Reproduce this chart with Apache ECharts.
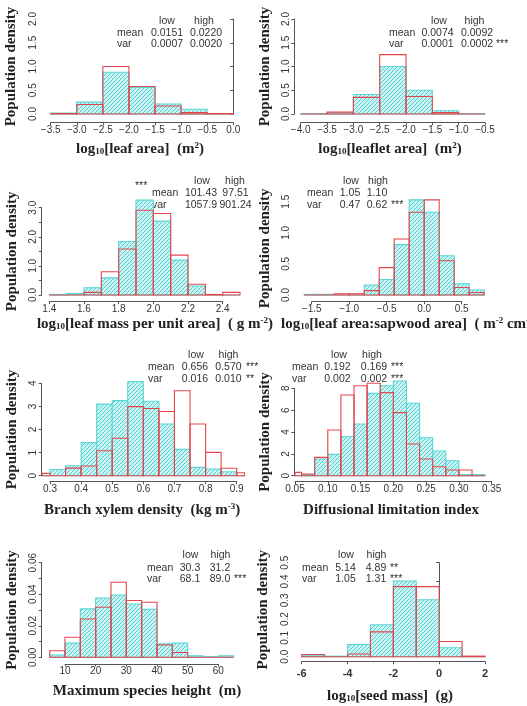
<!DOCTYPE html>
<html>
<head>
<meta charset="utf-8">
<script src="https://cdn.jsdelivr.net/npm/echarts@6/dist/echarts.min.js"></script>
<style>
html, body { margin: 0; padding: 0; background: #fff; }
#chart { width: 527px; height: 706px; }
</style>
</head>
<body>
<div id="chart"></div>
<script>
// bin edges + densities (cyan = hatched group, red = outlined group)
const leafAreaEdges = [-3.5, -3.0, -2.5, -2.0, -1.5, -1.0, -0.5, 0.0];
const leafAreaCyan = [0.02, 0.25, 0.88, 0.56, 0.21, 0.10, 0.00];
const leafAreaRed = [0.01, 0.20, 1.00, 0.58, 0.17, 0.03, 0.01];

const leafletEdges = [-4.0, -3.5, -3.0, -2.5, -2.0, -1.5, -1.0, -0.5];
const leafletCyan = [0.01, 0.02, 0.41, 1.00, 0.50, 0.07, 0.01];
const leafletRed = [0.00, 0.04, 0.35, 1.25, 0.37, 0.03, 0.00];

const lmaEdges = [1.4, 1.5, 1.6, 1.7, 1.8, 1.9, 2.0, 2.1, 2.2, 2.3, 2.4, 2.5];
const lmaCyan = [0.02, 0.05, 0.25, 0.59, 1.84, 3.26, 2.54, 1.20, 0.31, 0.01, 0.00];
const lmaRed = [0.00, 0.00, 0.09, 0.80, 1.58, 2.91, 2.80, 1.37, 0.37, 0.02, 0.09];

const sapwoodEdges = [-1.6, -1.4, -1.2, -1.0, -0.8, -0.6, -0.4, -0.2, 0.0, 0.2, 0.4, 0.6, 0.8];
const sapwoodCyan = [0.01, 0.01, 0.00, 0.00, 0.16, 0.25, 0.81, 1.53, 1.33, 0.63, 0.18, 0.08];
const sapwoodRed = [0.00, 0.00, 0.02, 0.02, 0.07, 0.44, 0.90, 1.33, 1.53, 0.55, 0.12, 0.04];

const xylemEdges = [0.275, 0.30, 0.35, 0.40, 0.45, 0.50, 0.55, 0.60, 0.65, 0.70, 0.75, 0.80, 0.85, 0.90, 0.925];
const xylemCyan = [0.00, 0.27, 0.43, 1.43, 3.10, 3.25, 4.08, 3.22, 2.24, 1.14, 0.36, 0.29, 0.17, 0.00];
const xylemRed = [0.10, 0.00, 0.33, 0.42, 1.08, 1.62, 2.99, 2.91, 2.78, 3.68, 2.24, 1.01, 0.32, 0.13];

const diffEdges = [0.05, 0.06, 0.08, 0.10, 0.12, 0.14, 0.16, 0.18, 0.20, 0.22, 0.24, 0.26, 0.28, 0.30, 0.32, 0.34];
const diffCyan = [0.00, 0.10, 1.53, 1.95, 3.57, 4.73, 7.54, 8.24, 8.67, 6.63, 3.48, 2.26, 1.37, 0.10, 0.10];
const diffRed = [0.30, 0.15, 1.68, 4.18, 7.39, 8.24, 8.46, 7.60, 5.77, 2.90, 1.53, 0.82, 0.52, 0.52, 0.00];

const heightEdges = [5, 10, 15, 20, 25, 30, 35, 40, 45, 50, 55, 60, 65];
const heightCyan = [0.0015, 0.0090, 0.0307, 0.0376, 0.0395, 0.0338, 0.0304, 0.0085, 0.0090, 0.0010, 0.0004, 0.0010];
const heightRed = [0.0042, 0.0127, 0.0243, 0.0317, 0.0476, 0.0360, 0.0349, 0.0078, 0.0030, 0.0000, 0.0000, 0.0000];

const seedEdges = [-6, -5, -4, -3, -2, -1, 0, 1, 2];
const seedCyan = [0.005, 0.003, 0.065, 0.170, 0.403, 0.303, 0.048, 0.000];
const seedRed = [0.012, 0.000, 0.014, 0.132, 0.373, 0.373, 0.081, 0.003];

// summary tables: [label, low, high, stars]
const leafAreaStats = [['mean', '0.0151', '0.0220', ''], ['var', '0.0007', '0.0020', '']];
const leafletStats = [['mean', '0.0074', '0.0092', ''], ['var', '0.0001', '0.0002', '***']];
const lmaStats = [['mean', '101.43', '97.51', ''], ['var', '1057.9', '901.24', '']];
const sapwoodStats = [['mean', '1.05', '1.10', ''], ['var', '0.47', '0.62', '***']];
const xylemStats = [['mean', '0.656', '0.570', '***'], ['var', '0.016', '0.010', '**']];
const diffStats = [['mean', '0.192', '0.169', '***'], ['var', '0.002', '0.002', '***']];
const heightStats = [['mean', '30.3', '31.2', ''], ['var', '68.1', '89.0', '***']];
const seedStats = [['mean', '5.14', '4.89', '**'], ['var', '1.05', '1.31', '***']];

const SANS = 'Liberation Sans, Arial, sans-serif';
const SERIF = 'Liberation Serif, Times New Roman, serif';
const AXIS = '#555';
const INK = '#333';

// layout per panel (pixels)
const panels = [
  { edges: leafAreaEdges, cyan: leafAreaCyan, red: leafAreaRed, stats: leafAreaStats,
    grid: [50.7, 19, 182.6, 95], xOff: 8.7, yOff: 9.7,
    x: [-3.5, 0, 0.5, 1], minus: true, y: [2, 0.5, 0.5, 1],
    title: '{b|log}{s|10}{b|[leaf area]  (m}{p|2}{b|)}', titleAt: [140, 149, 'center'],
    tab: { lab: 117, low: 167, high: 206, hlow: 167, hhigh: 204, stars: 226, rows: [21, 33, 44.5] } },
  { edges: leafletEdges, cyan: leafletCyan, red: leafletRed, stats: leafletStats,
    grid: [300.7, 19, 184.3, 95], xOff: 8.7, yOff: 6.4,
    x: [-4, -0.5, 0.5, 1], minus: true, y: [2, 0.5, 0.5, 1],
    title: '{b|log}{s|10}{b|[leaflet area]  (m}{p|2}{b|)}', titleAt: [390, 149, 'center'],
    tab: { lab: 389, low: 437.5, high: 477, hlow: 439, hhigh: 474.5, stars: 496, rows: [21, 33, 44.5] } },
  { edges: lmaEdges, cyan: lmaCyan, red: lmaRed, stats: lmaStats,
    grid: [49.3, 207.7, 173.4, 87.3], xOff: 6.7, yOff: 7.6,
    x: [1.4, 2.4, 0.2, 1], minus: false, y: [3, 0.5, 1, 1],
    title: '{b|log}{s|10}{b|[leaf mass per unit area]  ( g m}{p|-2}{b|)}', titleAt: [155, 324, 'center'],
    tab: { lab: 152, low: 201, high: 235.5, hlow: 202, hhigh: 235, stars: 0, rows: [181, 193, 205] },
    extra: { text: '***', at: [135, 186] } },
  { edges: sapwoodEdges, cyan: sapwoodCyan, red: sapwoodRed, stats: sapwoodStats,
    grid: [311.7, 201.7, 150, 93.3], xOff: 6.7, yOff: 17.4,
    x: [-1.5, 0.5, 0.5, 1], minus: true, y: [1.5, 0.5, 0.5, 1],
    title: '{b|log}{s|10}{b|[leaf area:sapwood area]  ( m}{p|-2}{b| cm}{p|-2}{b|)}', titleAt: [281, 324, 'left'],
    tab: { lab: 307, low: 350, high: 377, hlow: 351, hhigh: 378, stars: 391, rows: [181, 193, 205] } },
  { edges: xylemEdges, cyan: xylemCyan, red: xylemRed, stats: xylemStats,
    grid: [50, 383.3, 186.7, 92.4], xOff: 6, yOff: 8.3,
    x: [0.3, 0.9, 0.1, 1], minus: false, y: [4, 1, 1, 0],
    title: '{b|Branch xylem density  (kg m}{p|-3}{b|)}', titleAt: [142, 510, 'center'],
    tab: { lab: 148, low: 195, high: 228.5, hlow: 196, hhigh: 228.5, stars: 246, rows: [355, 367, 379] } },
  { edges: diffEdges, cyan: diffCyan, red: diffRed, stats: diffStats,
    grid: [295, 388.3, 196.7, 87.4], xOff: 6, yOff: 0.7,
    x: [0.05, 0.35, 0.05, 2], minus: false, y: [8, 2, 2, 0],
    title: '{b|Diffusional limitation index}', titleAt: [391, 510, 'center'],
    tab: { lab: 292, low: 337.5, high: 374, hlow: 339, hhigh: 372, stars: 391, rows: [355, 367, 379] } },
  { edges: heightEdges, cyan: heightCyan, red: heightRed, stats: heightStats,
    grid: [65, 562.7, 153.3, 94.6], xOff: 6.7, yOff: 23.3,
    x: [10, 60, 10, 0], minus: false, y: [0.06, 0.01, 0.02, 2],
    title: '{b|Maximum species height  (m)}', titleAt: [147, 691, 'center'],
    tab: { lab: 147, low: 190, high: 220, hlow: 190.5, hhigh: 220.5, stars: 234, rows: [555, 567.7, 579] } },
  { edges: seedEdges, cyan: seedCyan, red: seedRed, stats: seedStats,
    grid: [301.7, 562.7, 183.3, 94], xOff: 5, yOff: 8.7,
    x: [-6, 2, 2, 0], minus: false, boldX: true, y: [0.5, 0.1, 0.1, 1],
    title: '{b|log}{s|10}{b|[seed mass]  (g)}', titleAt: [390, 696, 'center'],
    tab: { lab: 302, low: 345.5, high: 376, hlow: 346, hhigh: 376.5, stars: 390, rows: [555, 567.7, 579] } }
];

function hatch() {
  const c = document.createElement('canvas');
  c.width = 4; c.height = 4;
  const g = c.getContext('2d');
  g.fillStyle = '#cdf3f3';
  g.fillRect(0, 0, 4, 4);
  g.strokeStyle = '#4cd0d0';
  g.lineWidth = 1;
  g.beginPath();
  g.moveTo(-1, 5); g.lineTo(5, -1);
  g.moveTo(-1, 1); g.lineTo(1, -1);
  g.moveTo(3, 5); g.lineTo(5, 3);
  g.stroke();
  return c;
}
const CYAN_FILL = { image: hatch(), repeat: 'repeat' };

function fmt(v, digits, minus) {
  let s = (Math.abs(v) < 1e-9 ? 0 : v).toFixed(digits);
  return minus ? s.replace('-', '\u2212') : s;
}

function histItem(fill, stroke) {
  return function (params, api) {
    const top = api.coord([api.value(0), api.value(2)]);
    const base = api.coord([api.value(1), 0]);
    return {
      type: 'rect',
      shape: { x: top[0], y: top[1], width: base[0] - top[0], height: base[1] - top[1] },
      style: { fill: fill, stroke: stroke, lineWidth: 1.1 }
    };
  };
}

function bins(edges, dens) {
  return dens.map((d, i) => [edges[i], edges[i + 1], d]);
}

const richTitle = {
  b: { fontFamily: SERIF, fontWeight: 'bold', fontSize: 15, fill: '#222' },
  s: { fontFamily: SERIF, fontWeight: 'bold', fontSize: 9, fill: '#222', verticalAlign: 'bottom' },
  p: { fontFamily: SERIF, fontWeight: 'bold', fontSize: 9, fill: '#222', verticalAlign: 'top' }
};

function txt(x, y, text, align) {
  return {
    type: 'text', x: x, y: y, silent: true,
    style: { text: text, align: align, verticalAlign: 'middle', textAlign: align, textVerticalAlign: 'middle',
      fontFamily: SANS, fontSize: 10.5, fill: INK }
  };
}

const grids = [], xAxes = [], yAxes = [], series = [], graphics = [];

panels.forEach((p, i) => {
  grids.push({ left: p.grid[0], top: p.grid[1], width: p.grid[2], height: p.grid[3], containLabel: false });
  xAxes.push({
    gridIndex: i, type: 'value', min: p.x[0], max: p.x[1], interval: p.x[2], offset: p.xOff,
    axisLine: { show: true, onZero: false, lineStyle: { color: AXIS, width: 1 } },
    axisTick: { show: true, length: 2.5, lineStyle: { color: AXIS } },
    axisLabel: { margin: p.boldX ? 6.5 : 2.2, showMinLabel: true, showMaxLabel: true, color: INK, fontFamily: SANS,
      fontSize: p.boldX ? 11 : 10, fontWeight: p.boldX ? 'bold' : 'normal',
      formatter: v => fmt(v, p.x[3], p.minus) },
    splitLine: { show: false }
  });
  yAxes.push({
    gridIndex: i, type: 'value', min: 0, max: p.y[0], interval: p.y[1], offset: p.yOff,
    name: 'Population density', nameLocation: 'middle', nameGap: 22,
    nameTextStyle: { fontFamily: SERIF, fontWeight: 'bold', fontSize: 15, color: '#222' },
    axisLine: { show: true, lineStyle: { color: AXIS, width: 1 } },
    axisTick: { show: true, length: 3, lineStyle: { color: AXIS } },
    axisLabel: { rotate: 90, margin: 3, showMinLabel: true, showMaxLabel: true, color: INK, fontFamily: SANS, fontSize: 10,
      formatter: v => {
        const k = v / p.y[2];
        return Math.abs(k - Math.round(k)) < 1e-6 ? fmt(v, p.y[3], false) : '';
      } },
    splitLine: { show: false }
  });
  series.push({
    type: 'custom', xAxisIndex: i, yAxisIndex: i, clip: false,
    renderItem: histItem(CYAN_FILL, '#5ad6d6'),
    encode: { x: [0, 1], y: 2 },
    data: bins(p.edges, p.cyan)
  });
  series.push({
    type: 'custom', xAxisIndex: i, yAxisIndex: i, clip: false,
    renderItem: histItem('transparent', '#e2474d'),
    encode: { x: [0, 1], y: 2 },
    data: bins(p.edges, p.red)
  });

  const t = p.tab;
  graphics.push(txt(t.hlow, t.rows[0], 'low', 'center'));
  graphics.push(txt(t.hhigh, t.rows[0], 'high', 'center'));
  p.stats.forEach((r, k) => {
    const y = t.rows[k + 1];
    graphics.push(txt(t.lab, y, r[0], 'left'));
    graphics.push(txt(t.low, y, r[1], 'center'));
    graphics.push(txt(t.high, y, r[2], 'center'));
    if (r[3]) graphics.push(txt(t.stars, y, r[3], 'left'));
  });
  if (p.extra) graphics.push(txt(p.extra.at[0], p.extra.at[1], p.extra.text, 'left'));

  graphics.push({
    type: 'text', x: p.titleAt[0], y: p.titleAt[1], silent: true,
    style: { text: p.title, rich: richTitle, align: p.titleAt[2], verticalAlign: 'middle',
      textAlign: p.titleAt[2], textVerticalAlign: 'middle' }
  });
});

const chart = echarts.init(document.getElementById('chart'), null, { renderer: 'canvas' });
chart.setOption({
  animation: false,
  backgroundColor: '#fff',
  textStyle: { fontFamily: SANS },
  grid: grids,
  xAxis: xAxes,
  yAxis: yAxes,
  series: series,
  graphic: { elements: graphics }
});
</script>
</body>
</html>
